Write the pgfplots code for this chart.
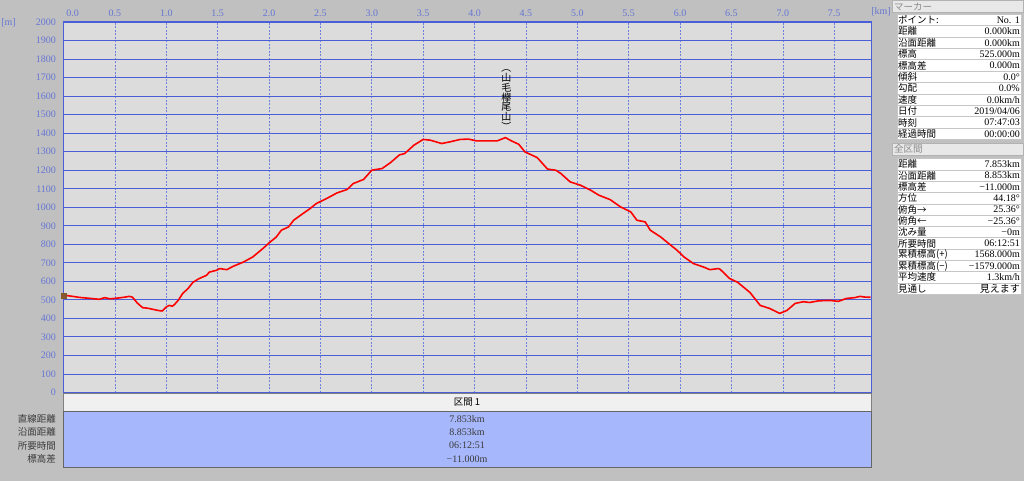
\documentclass[border=0pt]{standalone}
\usepackage{fontspec}
\setmainfont{Liberation Serif}
\newfontfamily\jp{Noto Sans CJK JP}
\usepackage{pgfplots}
\pgfplotsset{compat=1.18}
\definecolor{bg}{HTML}{C0C0C0}
\definecolor{plotbg}{HTML}{DCDCDC}
\definecolor{gridblue}{HTML}{4A5ED8}
\definecolor{vgrid}{HTML}{6F7FDF}
\definecolor{lblblue}{HTML}{6676D4}
\definecolor{tblblue}{HTML}{A7B7FB}
\definecolor{darktxt}{HTML}{3A3A3A}
\definecolor{hdrtxt}{HTML}{8A8A8A}
\definecolor{hdrbg}{HTML}{E8E8E8}
\begin{document}
\begin{tikzpicture}
\begin{scope}[x=1pt,y=-1pt]
\fill[bg] (0,0) rectangle (1024,481);
\path[use as bounding box] (0,0) rectangle (1024,481);
\end{scope}
\begin{axis}[
  at={(63.5pt,-392.5pt)}, anchor=south west,
  scale only axis, width=807.5pt, height=370.5pt,
  xmin=0, xmax=7.858, ymin=0, ymax=2000,
  axis background/.style={fill=plotbg},
  axis line style={draw=gridblue, line width=1pt},
  xtick={0,0.5,...,7.5}, ytick={0,100,...,2000},
  xticklabel pos=upper,
  major tick length=0pt,
  xmajorgrids, ymajorgrids,
  x grid style={vgrid, line width=0.6pt, dash pattern=on 2pt off 1.5pt},
  y grid style={gridblue, line width=0.9pt},
  /pgf/number format/assume math mode=true,
  xticklabel={\ifdim\tick pt<0.1pt\hspace*{18pt}\fi\pgfmathprintnumber[fixed,fixed zerofill,precision=1]{\tick}},
  x tick label style={font=\fontsize{10}{10}\selectfont, text=lblblue},
  y tick label style={font=\fontsize{10}{10}\selectfont, text=lblblue,
     /pgf/number format/.cd, set thousands separator={}},
  xticklabel shift=2pt,
  yticklabel shift=4pt,
  clip=false,
]
\addplot[red, line width=1.6pt, line join=round] coordinates {
(0.00,525) (0.05,522) (0.10,518) (0.16,513) (0.22,510) (0.28,507) (0.35,503)
(0.40,512) (0.45,506) (0.50,508) (0.56,512) (0.60,515) (0.64,519) (0.67,515)
(0.72,482) (0.77,458) (0.82,455) (0.87,449) (0.92,443) (0.96,440) (1.00,462)
(1.03,470) (1.06,466) (1.08,475) (1.12,500) (1.16,535) (1.21,560) (1.26,595)
(1.32,615) (1.39,632) (1.42,650) (1.49,660) (1.52,669) (1.59,663) (1.65,681)
(1.75,704) (1.84,731) (1.94,777) (2.01,812) (2.07,839) (2.12,876) (2.19,894)
(2.24,930) (2.33,966) (2.40,993) (2.46,1020) (2.56,1047) (2.66,1077) (2.76,1096)
(2.82,1128) (2.92,1150) (3.00,1200) (3.10,1209) (3.18,1240) (3.27,1283) (3.32,1290)
(3.41,1335) (3.50,1366) (3.57,1362) (3.68,1344) (3.76,1353) (3.86,1366) (3.94,1368)
(4.02,1358) (4.12,1358) (4.22,1358) (4.30,1376) (4.36,1358) (4.43,1340) (4.49,1299)
(4.61,1268) (4.71,1206) (4.79,1200) (4.84,1182) (4.93,1137) (5.03,1119) (5.13,1092)
(5.21,1065) (5.32,1041) (5.42,1002) (5.52,975) (5.58,930) (5.66,921) (5.71,876)
(5.81,840) (5.89,804) (5.97,768) (6.04,731) (6.13,696) (6.23,677) (6.29,663)
(6.37,669) (6.39,665) (6.48,616) (6.56,595) (6.68,540) (6.78,470) (6.87,454)
(6.97,427) (7.04,443) (7.12,481) (7.20,490) (7.26,486) (7.35,495) (7.46,497)
(7.54,492) (7.62,508) (7.70,512) (7.75,519) (7.80,515) (7.853,514)
};
\addplot[only marks, mark=square*, mark size=2.5pt, color=brown!70!black] coordinates {(0,525)};
\node[font=\jp\fontsize{10}{8.3}\selectfont, align=center, inner sep=0pt, text=black]
  at (axis cs:4.31,1578) {︵\\山\\毛\\欅\\尾\\山\\︶};
\end{axis}
\begin{scope}[x=1pt,y=-1pt]
% axis unit labels
\node[font=\fontsize{10}{10}\selectfont, text=lblblue, inner sep=0pt] at (8.5,23) {[m]};
\node[font=\fontsize{10}{10}\selectfont, text=lblblue, inner sep=0pt] at (881,12) {[km]};
% bottom section
\draw[fill=white!94!black, draw=gray] (63.5,393.5) rectangle (871,411.5);
\node[font=\jp\fontsize{9.5}{9.5}\selectfont, inner sep=0pt] at (467,402.5) {区間 1};
\draw[fill=tblblue, draw=gray!80!black] (63.5,411.5) rectangle (871,467);
\foreach \l/\v [count=\i from 0] in {直線距離/7.853km, 沿面距離/8.853km, 所要時間/{06:12:51}, 標高差/{−11.000m}}{
  \node[font=\jp\fontsize{9.5}{9.5}\selectfont, anchor=east, inner sep=0pt, text=darktxt] at (56,419+13.3*\i) {\l};
  \node[font=\fontsize{10}{10}\selectfont, inner sep=0pt, text=darktxt] at (467,419+13.3*\i) {\v};
}
% right panel: marker
\draw[fill=hdrbg, draw=gray!60] (892,0.5) rectangle (1023.5,12.5);
\node[font=\jp\fontsize{9.5}{9.5}\selectfont, anchor=west, inner sep=0pt, text=hdrtxt] at (894,6.5) {マーカー};
\foreach \l/\v [count=\i from 0] in {ポイント:/{No. 1}, 距離/{0.000km}, 沿面距離/{0.000km}, 標高/{525.000m}, 標高差/{0.000m}, 傾斜/{0.0°}, 勾配/{0.0\%}, 速度/{0.0km/h}, 日付/{2019/04/06}, 時刻/{07:47:03}, 経過時間/{00:00:00}}{
  \draw[fill=white, draw=gray!45] (897,14+11.4*\i) rectangle (1021,14+11.4*\i+11.4);
  \node[font=\jp\fontsize{9.5}{9.5}\selectfont, anchor=west, inner sep=0pt] at (898,14+11.4*\i+5.9) {\l};
  \node[font=\fontsize{10}{10}\selectfont, anchor=east, inner sep=0pt] at (1020,14+11.4*\i+5.9) {\v};
}
% right panel: whole section
\draw[fill=hdrbg, draw=gray!60] (892,143) rectangle (1023.5,155.5);
\node[font=\jp\fontsize{9.5}{9.5}\selectfont, anchor=west, inner sep=0pt, text=hdrtxt] at (894,149.3) {全区間};
\foreach \l/\v [count=\i from 0] in {距離/{7.853km}, 沿面距離/{8.853km}, 標高差/{−11.000m}, 方位/{44.18°}, 俯角→/{25.36°}, 俯角←/{−25.36°}, 沈み量/{−0m}, 所要時間/{06:12:51}, 累積標高(+)/{1568.000m}, 累積標高(−)/{−1579.000m}, 平均速度/{1.3km/h}, 見通し/{\jp 見えます}}{
  \draw[fill=white, draw=gray!45] (897,158.5+11.3*\i) rectangle (1021,158.5+11.3*\i+11.3);
  \node[font=\jp\fontsize{9.5}{9.5}\selectfont, anchor=west, inner sep=0pt] at (898,158.5+11.3*\i+5.8) {\l};
  \node[font=\fontsize{10}{10}\selectfont, anchor=east, inner sep=0pt] at (1020,158.5+11.3*\i+5.8) {\v};
}
\end{scope}
\end{tikzpicture}
\end{document}
